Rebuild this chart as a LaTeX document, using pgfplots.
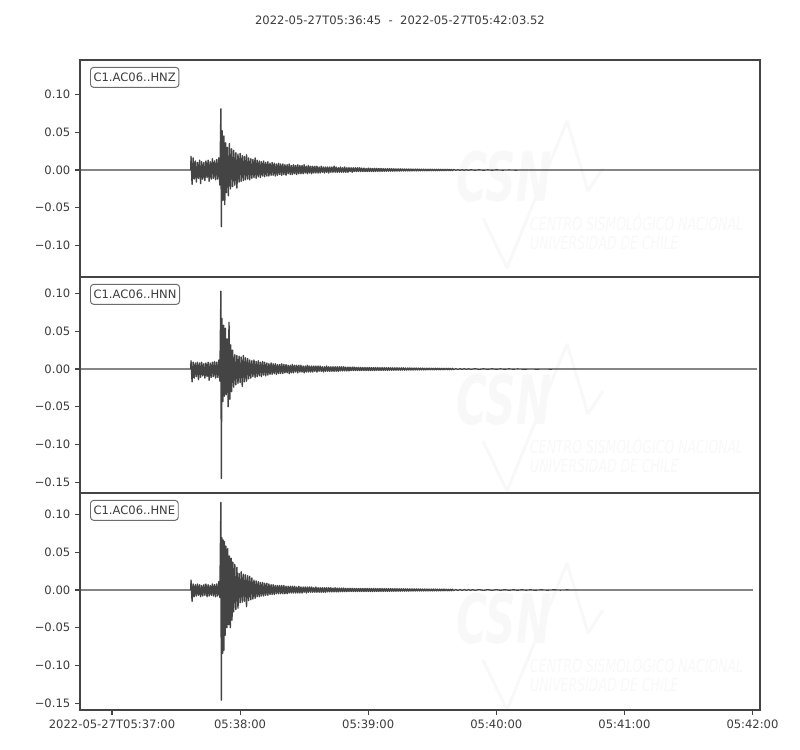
\documentclass[border=0pt]{standalone}
\usepackage{fontspec}
\setmainfont{DejaVu Sans}
\usepackage{pgfplots}
\usepackage{pgfplotstable}
\pgfplotsset{compat=1.18}
\definecolor{trace}{RGB}{68,68,68}
\definecolor{spine}{RGB}{68,68,68}
\definecolor{txt}{RGB}{60,60,60}
\definecolor{wm}{RGB}{248,248,248}
\newcommand{\mplsmall}{\fontsize{8.33}{10}\selectfont}

% time in s after 05:37:00, ground acceleration
\pgfplotstableread{
t y
-15 0
36.9 0
37.0 0.018
37.5 -0.019
38.0 0.016
38.5 -0.012
39.0 0.012
39.5 -0.016
40.0 0.010
40.5 -0.011
41.0 0.013
41.5 -0.018
42.0 0.011
42.5 -0.012
43.0 0.010
43.5 -0.014
44.0 0.012
44.5 -0.010
45.0 0.013
45.5 -0.015
46.0 0.011
46.5 -0.012
47.0 0.015
47.5 -0.011
48.0 0.012
48.5 -0.013
49.0 0.014
49.5 -0.012
50.0 0.016
50.5 -0.020
51.0 0.081
51.2 -0.075
51.6 0.052
52.0 -0.040
52.4 0.045
52.8 -0.046
53.2 0.036
53.6 -0.030
54.0 0.030
54.5 -0.034
55.0 0.035
55.5 -0.025
56.0 0.028
56.5 -0.022
57.0 0.026
57.5 -0.020
58.0 0.023
58.5 -0.024
59.0 0.021
59.5 -0.016
60.0 0.022
60.5 -0.015
61.0 0.019
61.5 -0.014
62.0 0.018
62.5 -0.013
63.0 0.020
63.5 -0.012
64.0 0.016
64.5 -0.013
65.0 0.015
65.5 -0.011
66.0 0.014
66.5 -0.010
67.0 0.016
67.5 -0.011
68.0 0.013
68.5 -0.009
69.0 0.012
69.5 -0.010
70.0 0.011
70.5 -0.008
71.0 0.012
71.5 -0.009
72.0 0.010
72.5 -0.008
73.0 0.011
73.5 -0.008
74.0 0.009
74.5 -0.007
75.0 0.010
75.5 -0.007
76.0 0.009
76.5 -0.008
77.0 0.008
77.5 -0.007
78.0 0.009
78.5 -0.006
79.0 0.008
79.5 -0.007
80.0 0.008
80.5 -0.006
81.0 0.007
81.5 -0.007
82.0 0.007
82.5 -0.005
83.0 0.008
83.5 -0.006
84.0 0.006
84.5 -0.006
85.0 0.007
85.5 -0.005
86.0 0.006
86.5 -0.006
87.0 0.007
87.5 -0.005
88.0 0.006
88.5 -0.005
89.0 0.006
89.5 -0.005
90.0 0.007
90.5 -0.004
91.0 0.005
91.5 -0.005
92.0 0.006
92.5 -0.004
93.0 0.005
93.5 -0.005
94.0 0.005
94.5 -0.004
95.0 0.005
95.5 -0.004
96.0 0.005
96.5 -0.004
97.0 0.004
97.5 -0.004
98.0 0.005
98.5 -0.003
99.0 0.004
99.5 -0.004
100.0 0.004
100.5 -0.003
101.0 0.004
101.5 -0.004
102.0 0.004
102.5 -0.003
103.0 0.004
103.5 -0.003
104.0 0.005
104.5 -0.003
105.0 0.004
105.5 -0.003
106.0 0.003
106.5 -0.003
107.0 0.004
107.5 -0.003
108.0 0.003
108.5 -0.003
109.0 0.004
109.5 -0.003
110.0 0.003
110.5 -0.003
111.0 0.003
111.5 -0.002
112.0 0.003
112.5 -0.003
113.0 0.003
113.5 -0.002
114.0 0.003
114.5 -0.002
115.0 0.003
115.5 -0.002
116.0 0.003
116.5 -0.002
117.0 0.0025
117.5 -0.002
118.0 0.0025
118.5 -0.002
119.0 0.002
119.5 -0.002
120.0 0.0025
120.5 -0.002
121.0 0.0022
121.5 -0.002
122.0 0.002
122.5 -0.002
123.0 0.0022
123.5 -0.0018
124.0 0.0022
124.5 -0.0018
125.0 0.002
125.5 -0.0018
126.0 0.002
126.5 -0.0017
127.0 0.0018
127.5 -0.0017
128.0 0.0018
128.5 -0.0016
129.0 0.0017
129.5 -0.0016
130.0 0.0018
130.5 -0.0015
131.0 0.0016
131.5 -0.0015
132.0 0.0016
132.5 -0.0015
133.0 0.0015
133.5 -0.0014
134.0 0.0015
134.5 -0.0014
135.0 0.0015
135.5 -0.0013
136.0 0.0014
136.5 -0.0013
137.0 0.0014
137.5 -0.0013
138.0 0.0013
138.5 -0.0012
139.0 0.0013
139.5 -0.0012
140.0 0.0013
140.5 -0.0012
141.0 0.0012
141.5 -0.0011
142.0 0.0012
142.5 -0.0011
143.0 0.0012
143.5 -0.0011
144.0 0.0011
144.5 -0.001
145.0 0.0011
145.5 -0.001
146.0 0.0011
146.5 -0.001
147.0 0.001
147.5 -0.001
148.0 0.001
148.5 -0.0009
149.0 0.001
149.5 -0.0009
150.0 0.001
150.5 -0.0009
151.0 0.0009
151.5 -0.0009
152.0 0.0009
152.5 -0.0008
153.0 0.0009
153.5 -0.0008
154.0 0.0008
154.5 -0.0008
155.0 0.0008
155.5 -0.0008
156.0 0.0008
156.5 -0.0007
157.0 0.0008
157.5 -0.0007
158.0 0.0007
158.5 -0.0007
159.0 0.0007
159.5 -0.0007
160.0 0.0006
161 -0.0003
162 0.0003
163 -0.0003
164 0.0003
165 -0.00025
166 0.00025
167 -0.00025
168 0.00025
170 -0.0002
172 0.0002
174 -0.0002
176 0.00015
178 -0.00015
180 0.00015
183 -0.0001
186 0.0001
189 -0.0001
192 0.00005
195 0
303.5 0
}\hnz

\pgfplotstableread{
t y
-15 0
36.9 0
37.0 0.011
37.5 -0.017
38.0 0.009
38.5 -0.012
39.0 0.008
39.5 -0.010
40.0 0.009
40.5 -0.014
41.0 0.008
41.5 -0.011
42.0 0.009
42.5 -0.009
43.0 0.007
43.5 -0.012
44.0 0.008
44.5 -0.010
45.0 0.009
45.5 -0.015
46.0 0.008
46.5 -0.011
47.0 0.009
47.5 -0.010
48.0 0.010
48.5 -0.012
49.0 0.009
49.5 -0.011
50.0 0.012
50.5 -0.016
51.0 0.103
51.2 -0.145
51.5 0.067
51.9 -0.043
52.3 0.058
52.7 -0.036
53.1 0.054
53.5 -0.034
53.9 0.040
54.4 -0.050
54.8 0.062
55.2 -0.040
55.6 0.032
56.0 -0.030
56.5 0.025
57.0 -0.024
57.5 0.019
58.0 -0.021
58.5 0.018
59.0 -0.019
59.5 0.017
60.0 -0.018
60.5 0.016
61.0 -0.023
61.5 0.018
62.0 -0.017
62.5 0.015
63.0 -0.016
63.5 0.014
64.0 -0.013
64.5 0.012
65.0 -0.012
65.5 0.011
66.0 -0.010
66.5 0.012
67.0 -0.011
67.5 0.010
68.0 -0.010
68.5 0.011
69.0 -0.009
69.5 0.009
70.0 -0.010
70.5 0.010
71.0 -0.008
71.5 0.009
72.0 -0.009
72.5 0.008
73.0 -0.008
73.5 0.007
74.0 -0.007
74.5 0.008
75.0 -0.007
75.5 0.007
76.0 -0.006
76.5 0.007
77.0 -0.007
77.5 0.006
78.0 -0.006
78.5 0.006
79.0 -0.006
79.5 0.007
80.0 -0.006
80.5 0.006
81.0 -0.005
81.5 0.006
82.0 -0.005
82.5 0.005
83.0 -0.006
83.5 0.005
84.0 -0.005
84.5 0.006
85.0 -0.005
85.5 0.005
86.0 -0.004
86.5 0.005
87.0 -0.005
87.5 0.005
88.0 -0.004
88.5 0.005
89.0 -0.004
89.5 0.004
90.0 -0.005
90.5 0.004
91.0 -0.004
91.5 0.005
92.0 -0.004
92.5 0.004
93.0 -0.004
93.5 0.004
94.0 -0.004
94.5 0.004
95.0 -0.003
95.5 0.004
96.0 -0.004
96.5 0.004
97.0 -0.003
97.5 0.004
98.0 -0.003
98.5 0.003
99.0 -0.004
99.5 0.003
100.0 -0.003
100.5 0.004
101.0 -0.003
101.5 0.003
102.0 -0.003
102.5 0.003
103.0 -0.003
103.5 0.003
104.0 -0.003
104.5 0.003
105.0 -0.003
105.5 0.003
106.0 -0.003
106.5 0.003
107.0 -0.0025
107.5 0.003
108.0 -0.0025
108.5 0.003
109.0 -0.0025
109.5 0.0025
110.0 -0.0025
110.5 0.0025
111.0 -0.0025
111.5 0.0025
112.0 -0.002
112.5 0.0025
113.0 -0.002
113.5 0.0025
114.0 -0.002
114.5 0.002
115.0 -0.002
115.5 0.0022
116.0 -0.002
116.5 0.002
117.0 -0.002
117.5 0.002
118.0 -0.002
118.5 0.002
119.0 -0.002
119.5 0.002
120.0 -0.002
120.5 0.002
121.0 -0.002
121.5 0.0019
122.0 -0.0019
122.5 0.002
123.0 -0.0019
123.5 0.0019
124.0 -0.0018
124.5 0.0019
125.0 -0.0018
125.5 0.0018
126.0 -0.0018
126.5 0.0018
127.0 -0.0017
127.5 0.0018
128.0 -0.0017
128.5 0.0017
129.0 -0.0017
129.5 0.0017
130.0 -0.0016
130.5 0.0017
131.0 -0.0016
131.5 0.0016
132.0 -0.0016
132.5 0.0016
133.0 -0.0015
133.5 0.0016
134.0 -0.0015
134.5 0.0015
135.0 -0.0015
135.5 0.0015
136.0 -0.0014
136.5 0.0015
137.0 -0.0014
137.5 0.0014
138.0 -0.0014
138.5 0.0014
139.0 -0.0013
139.5 0.0014
140.0 -0.0013
140.5 0.0013
141.0 -0.0013
141.5 0.0013
142.0 -0.0012
142.5 0.0013
143.0 -0.0012
143.5 0.0012
144.0 -0.0012
144.5 0.0012
145.0 -0.0011
145.5 0.0012
146.0 -0.0011
146.5 0.0011
147.0 -0.0011
147.5 0.0011
148.0 -0.001
148.5 0.0011
149.0 -0.001
149.5 0.001
150.0 -0.001
150.5 0.001
151.0 -0.001
151.5 0.001
152.0 -0.0009
152.5 0.001
153.0 -0.0009
153.5 0.0009
154.0 -0.0009
154.5 0.0009
155.0 -0.0009
155.5 0.0009
156.0 -0.0008
156.5 0.0009
157.0 -0.0008
157.5 0.0008
158.0 -0.0008
158.5 0.0008
159.0 -0.0008
159.5 0.0008
160.0 -0.0006
161 0.0004
162 -0.0004
163 0.00035
164 -0.00035
165 0.00035
166 -0.00035
167 0.0003
168 -0.0003
170 0.0003
172 -0.0003
174 0.00025
176 -0.00025
178 0.00025
180 -0.0002
182 0.0002
184 -0.0002
186 0.0002
188 -0.00015
190 0.00015
193 -0.00015
196 0.0001
199 -0.0001
202 0.0001
205 -0.00005
208 0
302.1 0
}\hnn

\pgfplotstableread{
t y
-15 0
36.9 0
37.0 0.013
37.5 -0.015
38.0 0.008
38.5 -0.009
39.0 0.007
39.5 -0.008
40.0 0.008
40.5 -0.007
41.0 0.007
41.5 -0.009
42.0 0.006
42.5 -0.008
43.0 0.007
43.5 -0.007
44.0 0.008
44.5 -0.009
45.0 0.007
45.5 -0.008
46.0 0.006
46.5 -0.007
47.0 0.008
47.5 -0.008
48.0 0.007
48.5 -0.009
49.0 0.008
49.5 -0.008
50.0 0.011
50.5 -0.010
51.0 0.116
51.2 -0.146
51.5 0.069
51.8 -0.084
52.1 0.066
52.4 -0.080
52.7 0.064
53.0 -0.060
53.4 0.058
53.8 -0.050
54.2 0.055
54.6 -0.046
55.0 0.045
55.4 -0.050
55.8 0.042
56.2 -0.040
56.6 0.037
57.0 -0.029
57.5 0.034
58.0 -0.026
58.5 0.030
59.0 -0.024
59.5 0.022
60.0 -0.017
60.5 0.024
61.0 -0.016
61.5 0.021
62.0 -0.015
62.5 0.020
63.0 -0.022
63.5 0.019
64.0 -0.014
64.5 0.018
65.0 -0.013
65.5 0.016
66.0 -0.012
66.5 0.013
67.0 -0.011
67.5 0.012
68.0 -0.009
68.5 0.011
69.0 -0.009
69.5 0.010
70.0 -0.008
70.5 0.010
71.0 -0.008
71.5 0.009
72.0 -0.007
72.5 0.009
73.0 -0.007
73.5 0.008
74.0 -0.006
74.5 0.007
75.0 -0.006
75.5 0.007
76.0 -0.006
76.5 0.006
77.0 -0.005
77.5 0.006
78.0 -0.005
78.5 0.006
79.0 -0.005
79.5 0.006
80.0 -0.005
80.5 0.006
81.0 -0.005
81.5 0.005
82.0 -0.005
82.5 0.005
83.0 -0.004
83.5 0.005
84.0 -0.004
84.5 0.005
85.0 -0.004
85.5 0.005
86.0 -0.004
86.5 0.004
87.0 -0.004
87.5 0.005
88.0 -0.004
88.5 0.004
89.0 -0.004
89.5 0.004
90.0 -0.003
90.5 0.004
91.0 -0.004
91.5 0.004
92.0 -0.003
92.5 0.004
93.0 -0.003
93.5 0.004
94.0 -0.003
94.5 0.003
95.0 -0.003
95.5 0.004
96.0 -0.003
96.5 0.003
97.0 -0.003
97.5 0.003
98.0 -0.003
98.5 0.003
99.0 -0.003
99.5 0.003
100.0 -0.003
100.5 0.003
101.0 -0.0025
101.5 0.003
102.0 -0.0025
102.5 0.003
103.0 -0.0025
103.5 0.0025
104.0 -0.0025
104.5 0.003
105.0 -0.0025
105.5 0.0025
106.0 -0.0025
106.5 0.0025
107.0 -0.0022
107.5 0.0025
108.0 -0.0022
108.5 0.0025
109.0 -0.0022
109.5 0.0022
110.0 -0.0022
110.5 0.0022
111.0 -0.002
111.5 0.0022
112.0 -0.002
112.5 0.0022
113.0 -0.002
113.5 0.002
114.0 -0.002
114.5 0.002
115.0 -0.002
115.5 0.002
116.0 -0.002
116.5 0.002
117.0 -0.002
117.5 0.002
118.0 -0.002
118.5 0.002
119.0 -0.002
119.5 0.002
120.0 -0.002
120.5 0.002
121.0 -0.002
121.5 0.002
122.0 -0.002
122.5 0.002
123.0 -0.0019
123.5 0.002
124.0 -0.0019
124.5 0.0019
125.0 -0.0019
125.5 0.0019
126.0 -0.0018
126.5 0.0019
127.0 -0.0018
127.5 0.0018
128.0 -0.0018
128.5 0.0018
129.0 -0.0018
129.5 0.0018
130.0 -0.0017
130.5 0.0018
131.0 -0.0017
131.5 0.0017
132.0 -0.0017
132.5 0.0017
133.0 -0.0016
133.5 0.0017
134.0 -0.0016
134.5 0.0016
135.0 -0.0016
135.5 0.0016
136.0 -0.0015
136.5 0.0016
137.0 -0.0015
137.5 0.0015
138.0 -0.0015
138.5 0.0015
139.0 -0.0015
139.5 0.0015
140.0 -0.0014
140.5 0.0015
141.0 -0.0014
141.5 0.0014
142.0 -0.0014
142.5 0.0014
143.0 -0.0013
143.5 0.0014
144.0 -0.0013
144.5 0.0013
145.0 -0.0013
145.5 0.0013
146.0 -0.0013
146.5 0.0013
147.0 -0.0012
147.5 0.0013
148.0 -0.0012
148.5 0.0012
149.0 -0.0012
149.5 0.0012
150.0 -0.0012
150.5 0.0012
151.0 -0.0011
151.5 0.0012
152.0 -0.0011
152.5 0.0011
153.0 -0.0011
153.5 0.0011
154.0 -0.0011
154.5 0.0011
155.0 -0.001
155.5 0.0011
156.0 -0.001
156.5 0.001
157.0 -0.001
157.5 0.001
158.0 -0.001
158.5 0.001
159.0 -0.001
159.5 0.001
160.0 -0.0008
161 0.0005
162 -0.0005
163 0.00045
164 -0.00045
165 0.00045
166 -0.00045
167 0.00045
168 -0.0004
169 0.0004
170 -0.0004
172 0.0004
174 -0.0004
176 0.00035
178 -0.00035
180 0.00035
182 -0.0003
184 0.0003
186 -0.0003
188 0.00025
190 -0.00025
192 0.00025
194 -0.0002
196 0.0002
198 -0.0002
201 0.00015
204 -0.00015
207 0.00015
210 -0.0001
213 0.0001
216 -0.00005
219 0
300.2 0
}\hne

\pgfplotsset{
  seis/.style={
    scale only axis, width=489.6pt,
    xmin=-15, xmax=303.52,
    axis line style={spine, line width=0.8pt},
    every tick/.style={spine, line width=0.8pt},
    tick align=outside, major tick length=3.5pt,
    xtick pos=bottom, ytick pos=left,
    ticklabel style={font=\mplsmall, text=txt},
    xtick=\empty,
  },
  wave/.style={trace, line width=1pt, line join=round},
}
\tikzset{
  stalabel/.style={draw=gray!85!black, rounded corners=2.2pt, fill=white,
    line width=0.7pt, inner xsep=2.2pt, inner ysep=4pt, font=\mplsmall, text=txt,
    anchor=north west},
}

\begin{document}
\begin{tikzpicture}
\path[use as bounding box] (0,0) rectangle (576pt,-540pt);
\node[font=\mplsmall, text=txt] at (288pt,-14.4pt) {2022-05-27T05:36:45\ \ -\ \ 2022-05-27T05:42:03.52};

% faint CSN watermark behind each trace
\begin{scope}[x=0.72pt,y=-0.72pt]
\foreach \cy in {177, 400, 619}{
  \draw[wm, line width=2.2pt, line join=bevel] (483,\cy+41) -- (507,\cy+91) -- (567,\cy-56) -- (588,\cy+14) -- (603,\cy-9);
  \node[wm, font=\fontsize{49}{49}\selectfont\bfseries\itshape, xscale=0.62, inner sep=0pt] at (504,\cy) {CSN};
  \node[wm, font=\fontsize{13}{14}\selectfont\itshape, xscale=0.69, anchor=north west, align=left, inner sep=0pt]
    at (530,\cy+36) {CENTRO SISMOLÓGICO NACIONAL\\UNIVERSIDAD DE CHILE};
}
\end{scope}

\begin{axis}[seis, at={(57.6pt,-43.2pt)}, anchor=north west, height=156.24pt,
  ymin=-0.1417, ymax=0.1457,
  ytick={-0.1,-0.05,0,0.05,0.1},
  yticklabels={−0.10,−0.05,0.00,0.05,0.10}]
\addplot[wave] table[x=t, y=y] {\hnz};
\node[stalabel] at (rel axis cs:0,1) [xshift=7.2pt, yshift=-5pt] {C1.AC06..HNZ};
\end{axis}

\begin{axis}[seis, at={(57.6pt,-199.44pt)}, anchor=north west, height=155.52pt,
  ymin=-0.1642, ymax=0.1219,
  ytick={-0.15,-0.1,-0.05,0,0.05,0.1},
  yticklabels={−0.15,−0.10,−0.05,0.00,0.05,0.10}]
\addplot[wave] table[x=t, y=y] {\hnn};
\node[stalabel] at (rel axis cs:0,1) [xshift=7.2pt, yshift=-5pt] {C1.AC06..HNN};
\end{axis}

\begin{axis}[seis, at={(57.6pt,-354.96pt)}, anchor=north west, height=156.24pt,
  ymin=-0.159, ymax=0.1285,
  ytick={-0.15,-0.1,-0.05,0,0.05,0.1},
  yticklabels={−0.15,−0.10,−0.05,0.00,0.05,0.10},
  xtick={0,60,120,180,240,300},
  xticklabels={2022-05-27T05:37:00,05:38:00,05:39:00,05:40:00,05:41:00,05:42:00}]
\addplot[wave] table[x=t, y=y] {\hne};
\node[stalabel] at (rel axis cs:0,1) [xshift=7.2pt, yshift=-5pt] {C1.AC06..HNE};
\end{axis}
\end{tikzpicture}
\end{document}
